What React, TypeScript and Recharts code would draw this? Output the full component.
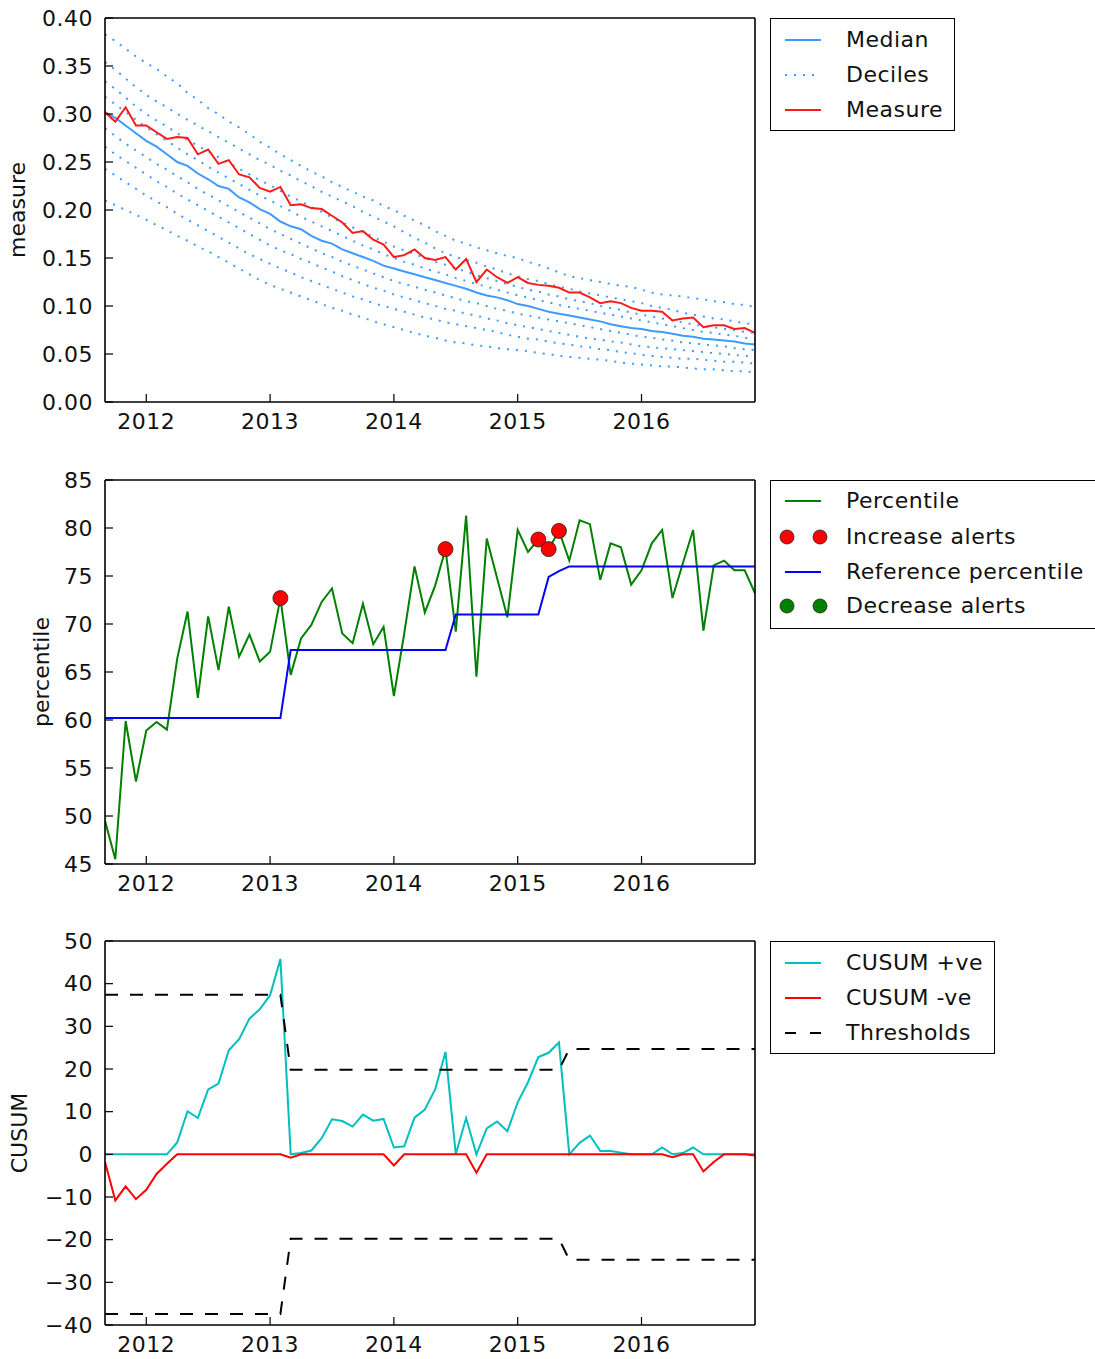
import React from 'react';
import { ComposedChart, Line, Scatter, XAxis, YAxis, Legend } from 'recharts';

// Monthly observations, Sep 2011 .. Dec 2016
const MONTHS = [
  '2011-09', '2011-10', '2011-11', '2011-12',
  '2012-01', '2012-02', '2012-03', '2012-04', '2012-05', '2012-06', '2012-07', '2012-08', '2012-09', '2012-10', '2012-11', '2012-12',
  '2013-01', '2013-02', '2013-03', '2013-04', '2013-05', '2013-06', '2013-07', '2013-08', '2013-09', '2013-10', '2013-11', '2013-12',
  '2014-01', '2014-02', '2014-03', '2014-04', '2014-05', '2014-06', '2014-07', '2014-08', '2014-09', '2014-10', '2014-11', '2014-12',
  '2015-01', '2015-02', '2015-03', '2015-04', '2015-05', '2015-06', '2015-07', '2015-08', '2015-09', '2015-10', '2015-11', '2015-12',
  '2016-01', '2016-02', '2016-03', '2016-04', '2016-05', '2016-06', '2016-07', '2016-08', '2016-09', '2016-10', '2016-11', '2016-12',
];

const YEAR_TICKS = [2012, 2013, 2014, 2015, 2016];
const MEASURE_TICKS = [0, 0.05, 0.1, 0.15, 0.2, 0.25, 0.3, 0.35, 0.4];
const PERCENTILE_TICKS = [45, 50, 55, 60, 65, 70, 75, 80, 85];
const CUSUM_TICKS = [-40, -30, -20, -10, 0, 10, 20, 30, 40, 50];

const MEDIAN = [
  0.302, 0.296, 0.288, 0.280,
  0.272, 0.266, 0.258, 0.250, 0.246, 0.238, 0.232, 0.225, 0.222, 0.213, 0.208, 0.201,
  0.196, 0.188, 0.183, 0.180, 0.173, 0.168, 0.165, 0.159, 0.155, 0.151, 0.147, 0.142,
  0.139, 0.136, 0.133, 0.130, 0.127, 0.124, 0.121, 0.118, 0.114, 0.111, 0.109, 0.106,
  0.102, 0.100, 0.097, 0.094, 0.092, 0.090, 0.088, 0.086, 0.084, 0.081, 0.079, 0.077,
  0.076, 0.074, 0.073, 0.071, 0.069, 0.068, 0.066, 0.065, 0.064, 0.063, 0.061, 0.060,
];

const DECILE_90 = [
  0.383, 0.376, 0.368, 0.360,
  0.353, 0.347, 0.339, 0.332, 0.322, 0.315, 0.306, 0.300, 0.292, 0.286, 0.279, 0.271,
  0.265, 0.258, 0.252, 0.246, 0.240, 0.235, 0.229, 0.224, 0.219, 0.214, 0.210, 0.204,
  0.200, 0.194, 0.189, 0.184, 0.178, 0.173, 0.168, 0.165, 0.161, 0.158, 0.155, 0.152,
  0.150, 0.146, 0.143, 0.139, 0.135, 0.131, 0.129, 0.127, 0.125, 0.123, 0.121, 0.120,
  0.117, 0.114, 0.112, 0.111, 0.110, 0.108, 0.107, 0.105, 0.104, 0.102, 0.101, 0.099,
];

const DECILE_80 = [
  0.354, 0.346, 0.337, 0.328,
  0.320, 0.313, 0.307, 0.300, 0.294, 0.288, 0.282, 0.276, 0.270, 0.264, 0.258, 0.252,
  0.247, 0.241, 0.236, 0.230, 0.225, 0.219, 0.214, 0.209, 0.204, 0.198, 0.193, 0.188,
  0.183, 0.177, 0.171, 0.166, 0.160, 0.155, 0.151, 0.148, 0.145, 0.141, 0.138, 0.134,
  0.131, 0.128, 0.126, 0.123, 0.120, 0.118, 0.115, 0.113, 0.111, 0.109, 0.107, 0.105,
  0.103, 0.100, 0.098, 0.096, 0.093, 0.091, 0.089, 0.087, 0.086, 0.084, 0.082, 0.081,
];

const DECILE_70 = [
  0.334, 0.326, 0.317, 0.308,
  0.300, 0.293, 0.287, 0.280, 0.273, 0.267, 0.261, 0.255, 0.249, 0.243, 0.237, 0.231,
  0.226, 0.220, 0.214, 0.209, 0.203, 0.198, 0.192, 0.187, 0.182, 0.177, 0.172, 0.167,
  0.162, 0.158, 0.154, 0.150, 0.146, 0.143, 0.139, 0.136, 0.132, 0.129, 0.126, 0.123,
  0.120, 0.117, 0.115, 0.112, 0.110, 0.107, 0.105, 0.103, 0.100, 0.098, 0.096, 0.093,
  0.091, 0.089, 0.087, 0.085, 0.083, 0.081, 0.079, 0.078, 0.076, 0.075, 0.073, 0.072,
];

const DECILE_60 = [
  0.318, 0.310, 0.302, 0.294,
  0.286, 0.279, 0.272, 0.265, 0.258, 0.252, 0.245, 0.239, 0.233, 0.227, 0.221, 0.215,
  0.210, 0.204, 0.199, 0.193, 0.188, 0.183, 0.178, 0.173, 0.168, 0.163, 0.159, 0.154,
  0.150, 0.146, 0.143, 0.139, 0.136, 0.133, 0.129, 0.126, 0.123, 0.120, 0.117, 0.114,
  0.111, 0.109, 0.106, 0.104, 0.101, 0.099, 0.097, 0.095, 0.093, 0.091, 0.089, 0.087,
  0.085, 0.083, 0.081, 0.079, 0.077, 0.075, 0.073, 0.072, 0.070, 0.069, 0.067, 0.066,
];

const DECILE_40 = [
  0.285, 0.277, 0.269, 0.262,
  0.255, 0.248, 0.242, 0.235, 0.229, 0.222, 0.216, 0.210, 0.204, 0.198, 0.192, 0.186,
  0.180, 0.175, 0.170, 0.165, 0.160, 0.155, 0.151, 0.146, 0.142, 0.138, 0.134, 0.130,
  0.126, 0.123, 0.120, 0.117, 0.114, 0.111, 0.108, 0.105, 0.103, 0.100, 0.097, 0.095,
  0.092, 0.090, 0.088, 0.086, 0.084, 0.082, 0.080, 0.078, 0.076, 0.074, 0.072, 0.070,
  0.068, 0.067, 0.065, 0.064, 0.062, 0.061, 0.060, 0.059, 0.058, 0.056, 0.055, 0.054,
];

const DECILE_30 = [
  0.266, 0.258, 0.251, 0.244,
  0.237, 0.230, 0.224, 0.217, 0.211, 0.205, 0.199, 0.193, 0.187, 0.181, 0.175, 0.169,
  0.163, 0.158, 0.154, 0.149, 0.145, 0.140, 0.136, 0.131, 0.127, 0.123, 0.119, 0.116,
  0.112, 0.109, 0.106, 0.103, 0.100, 0.097, 0.095, 0.092, 0.090, 0.087, 0.085, 0.082,
  0.080, 0.078, 0.076, 0.074, 0.072, 0.070, 0.068, 0.066, 0.065, 0.063, 0.062, 0.060,
  0.058, 0.057, 0.056, 0.055, 0.054, 0.053, 0.052, 0.051, 0.050, 0.049, 0.048, 0.047,
];

const DECILE_20 = [
  0.243, 0.236, 0.229, 0.222,
  0.215, 0.209, 0.203, 0.196, 0.190, 0.184, 0.178, 0.172, 0.166, 0.160, 0.154, 0.149,
  0.144, 0.139, 0.135, 0.130, 0.126, 0.122, 0.118, 0.114, 0.110, 0.107, 0.103, 0.100,
  0.097, 0.094, 0.091, 0.088, 0.086, 0.083, 0.081, 0.079, 0.077, 0.075, 0.073, 0.070,
  0.068, 0.066, 0.065, 0.063, 0.061, 0.060, 0.058, 0.057, 0.055, 0.054, 0.052, 0.051,
  0.049, 0.048, 0.047, 0.046, 0.045, 0.045, 0.044, 0.043, 0.042, 0.042, 0.041, 0.040,
];

const DECILE_10 = [
  0.210, 0.205, 0.200, 0.195,
  0.190, 0.184, 0.179, 0.173, 0.168, 0.162, 0.157, 0.151, 0.145, 0.139, 0.133, 0.127,
  0.122, 0.118, 0.114, 0.110, 0.106, 0.102, 0.098, 0.095, 0.091, 0.088, 0.084, 0.081,
  0.078, 0.075, 0.072, 0.069, 0.067, 0.064, 0.062, 0.061, 0.059, 0.058, 0.056, 0.055,
  0.054, 0.053, 0.051, 0.050, 0.048, 0.047, 0.046, 0.045, 0.044, 0.043, 0.041, 0.040,
  0.039, 0.038, 0.037, 0.037, 0.036, 0.035, 0.034, 0.034, 0.033, 0.032, 0.032, 0.031,
];

const MEASURE = [
  0.302, 0.292, 0.307, 0.288,
  0.288, 0.281, 0.274, 0.276, 0.275, 0.258, 0.263, 0.248, 0.252, 0.237, 0.234, 0.223,
  0.219, 0.224, 0.205, 0.206, 0.202, 0.201, 0.194, 0.187, 0.176, 0.178, 0.169, 0.164,
  0.151, 0.153, 0.159, 0.150, 0.148, 0.151, 0.138, 0.149, 0.125, 0.138, 0.130, 0.124,
  0.130, 0.124, 0.122, 0.121, 0.119, 0.114, 0.114, 0.109, 0.103, 0.105, 0.103, 0.098,
  0.095, 0.095, 0.094, 0.085, 0.087, 0.088, 0.078, 0.080, 0.080, 0.076, 0.077, 0.072,
];

const PERCENTILE = [
  49.5, 45.5, 59.9, 53.6,
  58.9, 59.8, 59.0, 66.4, 71.3, 62.3, 70.8, 65.2, 71.8, 66.6, 68.9, 66.1,
  67.1, 72.7, 64.7, 68.5, 69.9, 72.3, 73.7, 69.0, 68.0, 72.1, 67.9, 69.7,
  62.5, 69.0, 76.0, 71.2, 74.0, 77.8, 69.2, 81.3, 64.5, 78.9, 74.8, 70.7,
  79.8, 77.5, 78.8, 77.8, 79.7, 76.6, 80.8, 80.4, 74.6, 78.4, 78.0, 74.1,
  75.6, 78.4, 79.8, 72.7, 76.3, 79.8, 69.3, 76.1, 76.6, 75.6, 75.6, 73.2,
];

const REFERENCE_PERCENTILE = [
  60.2, 60.2, 60.2, 60.2,
  60.2, 60.2, 60.2, 60.2, 60.2, 60.2, 60.2, 60.2, 60.2, 60.2, 60.2, 60.2,
  60.2, 60.2, 67.3, 67.3, 67.3, 67.3, 67.3, 67.3, 67.3, 67.3, 67.3, 67.3,
  67.3, 67.3, 67.3, 67.3, 67.3, 67.3, 71.0, 71.0, 71.0, 71.0, 71.0, 71.0,
  71.0, 71.0, 71.0, 74.9, 75.5, 76.0, 76.0, 76.0, 76.0, 76.0, 76.0, 76.0,
  76.0, 76.0, 76.0, 76.0, 76.0, 76.0, 76.0, 76.0, 76.0, 76.0, 76.0, 76.0,
];

const INCREASE_ALERT_MONTHS = ['2013-02', '2014-06', '2015-03', '2015-04', '2015-05'];
const DECREASE_ALERT_MONTHS: string[] = [];

const CUSUM_POS = [
  0, 0, 0, 0,
  0, 0, 0, 2.8, 10.1, 8.5, 15.2, 16.6, 24.4, 27.0, 31.8, 34.0,
  37.3, 45.8, 0, 0.3, 0.9, 3.8, 8.2, 7.8, 6.5, 9.3, 7.9, 8.3,
  1.6, 1.9, 8.6, 10.5, 15.2, 24.0, 0, 8.5, 0, 6.1, 7.7, 5.4,
  12.2, 16.9, 22.8, 23.8, 26.2, 0, 2.7, 4.4, 0.8, 0.8, 0.4, 0,
  0, 0, 1.6, 0, 0.3, 1.6, 0, 0, 0, 0, 0, 0,
];

const CUSUM_NEG = [
  -1.8, -10.8, -7.5, -10.5,
  -8.3, -4.6, -2.2, 0, 0, 0, 0, 0, 0, 0, 0, 0,
  0, 0, -0.8, 0, 0, 0, 0, 0, 0, 0, 0, 0,
  -2.6, 0, 0, 0, 0, 0, 0, 0, -4.3, 0, 0, 0,
  0, 0, 0, 0, 0, 0, 0, 0, 0, 0, 0, 0,
  0, 0, 0, -0.7, 0, 0, -4.0, -1.8, 0, 0, 0, -0.3,
];

const THRESHOLD_UPPER = [
  37.4, 37.4, 37.4, 37.4,
  37.4, 37.4, 37.4, 37.4, 37.4, 37.4, 37.4, 37.4, 37.4, 37.4, 37.4, 37.4,
  37.4, 37.4, 19.8, 19.8, 19.8, 19.8, 19.8, 19.8, 19.8, 19.8, 19.8, 19.8,
  19.8, 19.8, 19.8, 19.8, 19.8, 19.8, 19.8, 19.8, 19.8, 19.8, 19.8, 19.8,
  19.8, 19.8, 19.8, 19.8, 19.8, 24.7, 24.7, 24.7, 24.7, 24.7, 24.7, 24.7,
  24.7, 24.7, 24.7, 24.7, 24.7, 24.7, 24.7, 24.7, 24.7, 24.7, 24.7, 24.7,
];

const THRESHOLD_LOWER = [
  -37.4, -37.4, -37.4, -37.4,
  -37.4, -37.4, -37.4, -37.4, -37.4, -37.4, -37.4, -37.4, -37.4, -37.4, -37.4, -37.4,
  -37.4, -37.4, -19.8, -19.8, -19.8, -19.8, -19.8, -19.8, -19.8, -19.8, -19.8, -19.8,
  -19.8, -19.8, -19.8, -19.8, -19.8, -19.8, -19.8, -19.8, -19.8, -19.8, -19.8, -19.8,
  -19.8, -19.8, -19.8, -19.8, -19.8, -24.7, -24.7, -24.7, -24.7, -24.7, -24.7, -24.7,
  -24.7, -24.7, -24.7, -24.7, -24.7, -24.7, -24.7, -24.7, -24.7, -24.7, -24.7, -24.7,
];

// ---- colours ----
const C_MEDIAN = '#3d9bff';
const C_MEASURE = '#ff1a1a';
const C_PERCENTILE = '#008000';
const C_REFERENCE = '#0000ff';
const C_CUSUM_POS = '#00bfbf';
const C_CUSUM_NEG = '#ff0000';

// months since Jan 2012
const monthIndex = (label: string) => {
  const [y, m] = label.split('-').map(Number);
  return (y - 2012) * 12 + (m - 1);
};

const X_DOMAIN = [monthIndex(MONTHS[0]), monthIndex(MONTHS[MONTHS.length - 1])];
const X_TICKS = YEAR_TICKS.map((y) => (y - 2012) * 12);

const measureRows = MONTHS.map((mo, k) => ({
  t: monthIndex(mo),
  median: MEDIAN[k],
  d10: DECILE_10[k],
  d20: DECILE_20[k],
  d30: DECILE_30[k],
  d40: DECILE_40[k],
  d60: DECILE_60[k],
  d70: DECILE_70[k],
  d80: DECILE_80[k],
  d90: DECILE_90[k],
  measure: MEASURE[k],
}));

const percentileRows = MONTHS.map((mo, k) => ({
  t: monthIndex(mo),
  percentile: PERCENTILE[k],
  reference: REFERENCE_PERCENTILE[k],
}));

const alertRows = (months: string[]) =>
  months.map((mo) => ({ t: monthIndex(mo), v: PERCENTILE[MONTHS.indexOf(mo)] }));

const cusumRows = MONTHS.map((mo, k) => ({
  t: monthIndex(mo),
  pos: CUSUM_POS[k],
  neg: CUSUM_NEG[k],
  upper: THRESHOLD_UPPER[k],
  lower: THRESHOLD_LOWER[k],
}));

// ---- shared styling ----
const FONT = "'DejaVu Sans', 'Liberation Sans', sans-serif";
const FONT_SIZE = 22;
const TICK_TEXT = { fontSize: FONT_SIZE, fill: '#111', letterSpacing: 0.5 };
const AXIS_LINE = { stroke: '#000', strokeWidth: 1.6 };
const TICK_LINE = { stroke: '#000', strokeWidth: 1.2 };
const CHART_W = 1095;
const MARGIN = { top: 17, right: 339, bottom: 0, left: 0 };
const PLOT_CENTER_Y = 18 + 192;

const fmtMinus = (s: string) => s.replace('-', '\u2212');

// Rotated axis title; baseX is the text baseline position in chart coordinates
function AxisTitle({ text, baseX }: { text: string; baseX: number }) {
  return (
    <text
      x={baseX}
      y={PLOT_CENTER_Y}
      transform={`rotate(-90 ${baseX} ${PLOT_CENTER_Y})`}
      textAnchor="middle"
      fontSize={FONT_SIZE}
      fill="#111"
      style={{ fontFamily: FONT }}
    >
      {text}
    </text>
  );
}

function frame(opts: {
  domain: number[];
  ticks: number[];
  format: (v: number) => string;
  title: string;
  titleX: number;
  xAxisHeight: number;
}) {
  return [
    <XAxis
      key="xb"
      xAxisId="b"
      type="number"
      dataKey="t"
      domain={X_DOMAIN}
      ticks={X_TICKS}
      interval={0}
      allowDataOverflow
      height={opts.xAxisHeight}
      axisLine={AXIS_LINE}
      tickLine={TICK_LINE}
      tickSize={-8}
      tickMargin={19}
      tick={TICK_TEXT}
      tickFormatter={(v: number) => String(2012 + Math.round(v / 12))}
    />,
    <XAxis
      key="xt"
      xAxisId="t"
      orientation="top"
      type="number"
      domain={X_DOMAIN}
      ticks={X_TICKS}
      interval={0}
      allowDataOverflow
      height={1}
      axisLine={AXIS_LINE}
      tickLine={TICK_LINE}
      tickSize={-8}
      tick={false}
    />,
    <YAxis
      key="yl"
      yAxisId="l"
      type="number"
      domain={opts.domain}
      ticks={opts.ticks}
      interval={0}
      allowDataOverflow
      width={105}
      axisLine={AXIS_LINE}
      tickLine={TICK_LINE}
      tickSize={-8}
      tickMargin={20}
      tick={TICK_TEXT}
      tickFormatter={opts.format}
      label={<AxisTitle text={opts.title} baseX={opts.titleX} />}
    />,
    <YAxis
      key="yr"
      yAxisId="r"
      orientation="right"
      type="number"
      domain={opts.domain}
      ticks={opts.ticks}
      interval={0}
      allowDataOverflow
      width={1}
      axisLine={AXIS_LINE}
      tickLine={TICK_LINE}
      tickSize={-8}
      tick={false}
    />,
  ];
}

type LegendItem = { label: string; sample: React.ReactNode; y: number };

function LegendBox({ width, height, items }: { width: number; height: number; items: LegendItem[] }) {
  return (
    <div
      style={{
        position: 'relative',
        width,
        height,
        boxSizing: 'border-box',
        border: '1.6px solid #000',
        background: '#fff',
        fontFamily: FONT,
        fontSize: FONT_SIZE,
        letterSpacing: 0.5,
        color: '#111',
      }}
    >
      {items.map((it) => (
        <div key={it.label} style={{ position: 'absolute', left: 0, top: it.y - 20, height: 40, width: '100%' }}>
          <svg width={70} height={40} style={{ position: 'absolute', left: 0, top: 0 }}>
            {it.sample}
          </svg>
          <span style={{ position: 'absolute', left: 75, top: 0, lineHeight: '40px', whiteSpace: 'nowrap' }}>
            {it.label}
          </span>
        </div>
      ))}
    </div>
  );
}

const lineSample = (color: string, dash?: string) => (
  <line x1={14} x2={50} y1={20} y2={20} stroke={color} strokeWidth={2} strokeDasharray={dash} />
);
const markerSample = (color: string) => (
  <g>
    <circle cx={16} cy={20} r={7} fill={color} stroke="#222" strokeWidth={0.8} />
    <circle cx={49} cy={20} r={7} fill={color} stroke="#222" strokeWidth={0.8} />
  </g>
);

const series = { xAxisId: 'b', yAxisId: 'l', dot: false, activeDot: false, isAnimationActive: false, type: 'linear' as const };

const DECILE_KEYS = ['d10', 'd20', 'd30', 'd40', 'd60', 'd70', 'd80', 'd90'];

function AlertDot(color: string) {
  return (p: any) => <circle cx={p.cx} cy={p.cy} r={7.5} fill={color} stroke="#222" strokeWidth={0.8} />;
}

export default function App() {
  return (
    <div
      style={{
        position: 'absolute',
        left: 0,
        top: 0,
        width: 1095,
        height: 1359,
        overflow: 'hidden',
        background: '#fff',
        fontFamily: FONT,
      }}
    >
      {/* measure with median and deciles */}
      <div style={{ position: 'absolute', left: 0, top: 0 }}>
        <ComposedChart width={CHART_W} height={450} margin={MARGIN} data={measureRows}>
          {frame({
            domain: [0, 0.4],
            ticks: MEASURE_TICKS,
            format: (v) => v.toFixed(2),
            title: 'measure',
            titleX: 25,
            xAxisHeight: 48,
          })}
          {DECILE_KEYS.map((k) => (
            <Line key={k} {...series} dataKey={k} stroke={C_MEDIAN} strokeWidth={2} strokeDasharray="2 7" />
          ))}
          <Line {...series} dataKey="median" stroke={C_MEDIAN} strokeWidth={2} />
          <Line {...series} dataKey="measure" stroke={C_MEASURE} strokeWidth={2} />
          <Legend
            layout="horizontal"
            verticalAlign="middle"
            align="center"
            wrapperStyle={{ left: 770, top: 18, width: 185, height: 113 }}
            content={() => (
              <LegendBox
                width={185}
                height={113}
                items={[
                  { label: 'Median', sample: lineSample(C_MEDIAN), y: 21 },
                  { label: 'Deciles', sample: lineSample(C_MEDIAN, '2 7'), y: 56 },
                  { label: 'Measure', sample: lineSample(C_MEASURE), y: 91 },
                ]}
              />
            )}
          />
        </ComposedChart>
      </div>

      {/* percentile with reference and alerts */}
      <div style={{ position: 'absolute', left: 0, top: 462 }}>
        <ComposedChart width={CHART_W} height={450} margin={MARGIN} data={percentileRows}>
          {frame({
            domain: [45, 85],
            ticks: PERCENTILE_TICKS,
            format: (v) => String(v),
            title: 'percentile',
            titleX: 49,
            xAxisHeight: 48,
          })}
          <Line {...series} dataKey="percentile" stroke={C_PERCENTILE} strokeWidth={2} />
          <Line {...series} dataKey="reference" stroke={C_REFERENCE} strokeWidth={2} />
          <Scatter
            xAxisId="b"
            yAxisId="l"
            data={alertRows(INCREASE_ALERT_MONTHS)}
            dataKey="v"
            isAnimationActive={false}
            shape={AlertDot('#ff0000')}
          />
          <Scatter
            xAxisId="b"
            yAxisId="l"
            data={alertRows(DECREASE_ALERT_MONTHS)}
            dataKey="v"
            isAnimationActive={false}
            shape={AlertDot('#008000')}
          />
          <Legend
            layout="horizontal"
            verticalAlign="middle"
            align="center"
            wrapperStyle={{ left: 770, top: 18, width: 345, height: 149 }}
            content={() => (
              <LegendBox
                width={345}
                height={149}
                items={[
                  { label: 'Percentile', sample: lineSample(C_PERCENTILE), y: 20 },
                  { label: 'Increase alerts', sample: markerSample('#ff0000'), y: 56 },
                  { label: 'Reference percentile', sample: lineSample(C_REFERENCE), y: 91 },
                  { label: 'Decrease alerts', sample: markerSample('#008000'), y: 125 },
                ]}
              />
            )}
          />
        </ComposedChart>
      </div>

      {/* CUSUM with thresholds */}
      <div style={{ position: 'absolute', left: 0, top: 923 }}>
        <ComposedChart width={CHART_W} height={436} margin={MARGIN} data={cusumRows}>
          {frame({
            domain: [-40, 50],
            ticks: CUSUM_TICKS,
            format: (v) => fmtMinus(String(v)),
            title: 'CUSUM',
            titleX: 27,
            xAxisHeight: 34,
          })}
          <Line {...series} dataKey="pos" stroke={C_CUSUM_POS} strokeWidth={2} />
          <Line {...series} dataKey="neg" stroke={C_CUSUM_NEG} strokeWidth={2} />
          <Line {...series} dataKey="upper" stroke="#000" strokeWidth={2} strokeDasharray="13 12" />
          <Line {...series} dataKey="lower" stroke="#000" strokeWidth={2} strokeDasharray="13 12" />
          <Legend
            layout="horizontal"
            verticalAlign="middle"
            align="center"
            wrapperStyle={{ left: 770, top: 18, width: 225, height: 113 }}
            content={() => (
              <LegendBox
                width={225}
                height={113}
                items={[
                  { label: 'CUSUM +ve', sample: lineSample(C_CUSUM_POS), y: 21 },
                  { label: 'CUSUM -ve', sample: lineSample(C_CUSUM_NEG), y: 56 },
                  { label: 'Thresholds', sample: lineSample('#000', '11 14'), y: 91 },
                ]}
              />
            )}
          />
        </ComposedChart>
      </div>
    </div>
  );
}
